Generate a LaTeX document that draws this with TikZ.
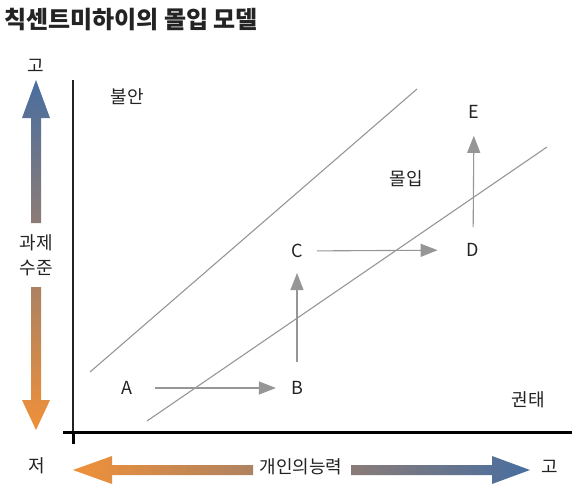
\documentclass[tikz,border=0pt]{standalone}
\usepackage{fontspec}
\newfontfamily\kr{Noto Sans CJK KR}
\usetikzlibrary{arrows.meta}
\definecolor{arrblue}{RGB}{72,110,160}
\definecolor{arrorange}{RGB}{240,144,56}
\definecolor{linegray}{RGB}{150,150,150}
\definecolor{txt}{RGB}{35,35,35}
\tikzset{
  lbl/.style={font=\kr\fontsize{18}{20}\selectfont, text=txt, inner sep=1pt},
  pt/.style={font=\kr\fontsize{18}{20}\selectfont, text=txt, inner sep=1pt},
  zone/.style={draw=linegray, line width=1.1pt},
  move/.style={draw=linegray, line width=1.1pt, -{Triangle[length=17pt,width=13pt]}, color=linegray},
}
\begin{document}
\begin{tikzpicture}[x=1pt,y=-1pt]
\useasboundingbox (0,0) rectangle (580,495);
% title
\node[anchor=west, font=\kr\bfseries\fontsize{24}{27}\selectfont, text=txt, inner sep=0pt] (title) at (4,20) {칙센트미하이의 몰입 모델};
% vertical gradient arrow
\shade[top color=arrblue, bottom color=arrorange]
  (36,80) -- (50,118) -- (41,118) -- (41,223) -- (31,223) -- (31,118) -- (22,118) -- cycle
  (31,287) -- (41,287) -- (41,400) -- (50,400) -- (36,430) -- (22,400) -- (31,400) -- cycle;
\node[lbl] (hi1) at (36,66) {고};
\node[lbl] (task1) at (36,243) {과제};
\node[lbl] (task2) at (36,268) {수준};
\node[lbl] (lo) at (37,466) {저};
% horizontal gradient arrow
\shade[left color=arrorange, right color=arrblue]
  (73,470) -- (112,456) -- (112,465) -- (253,465) -- (253,475) -- (112,475) -- (112,484) -- cycle
  (351,465) -- (492,465) -- (492,456) -- (530,470) -- (492,484) -- (492,475) -- (351,475) -- cycle;
\node[lbl] (skill) at (301,467) {개인의능력};
\node[lbl] (hi2) at (550,467) {고};
% axes
\coordinate (ytop) at (73,80);
\coordinate (origin) at (73,432);
\coordinate (xleft) at (63,432);
\coordinate (xright) at (572,432);
\coordinate (tick) at (73,444);
\draw[line width=1.3pt, color=txt] (ytop) -- (origin);
\draw[line width=3pt, color=black] (xleft) -- (xright);
\draw[line width=3pt, color=black] (origin) -- (tick);
% zone lines
\coordinate (u1) at (90,372);
\coordinate (u2) at (417,89);
\coordinate (l1) at (147,421);
\coordinate (l2) at (547,147);
\draw[zone] (u1) -- (u2);
\draw[zone] (l1) -- (l2);
% zone labels
\node[lbl] (anx) at (127,97) {불안};
\node[lbl] (flow) at (406,179) {몰입};
\node[lbl] (bore) at (528,400) {권태};
% points
\node[pt] (A) at (127,388) {A};
\node[pt] (B) at (297,388) {B};
\node[pt] (C) at (297,251) {C};
\node[pt] (D) at (473,250) {D};
\node[pt] (E) at (474,112) {E};
\draw[move, shorten <=21pt, shorten >=14pt] (A) -- (B);
\draw[move, shorten <=18pt, shorten >=14pt] (B) -- (C);
\draw[move, shorten <=13pt, shorten >=28pt] (C) -- (D);
\draw[move, shorten <=15pt, shorten >=16pt] (D) -- (E);
\end{tikzpicture}
\end{document}
